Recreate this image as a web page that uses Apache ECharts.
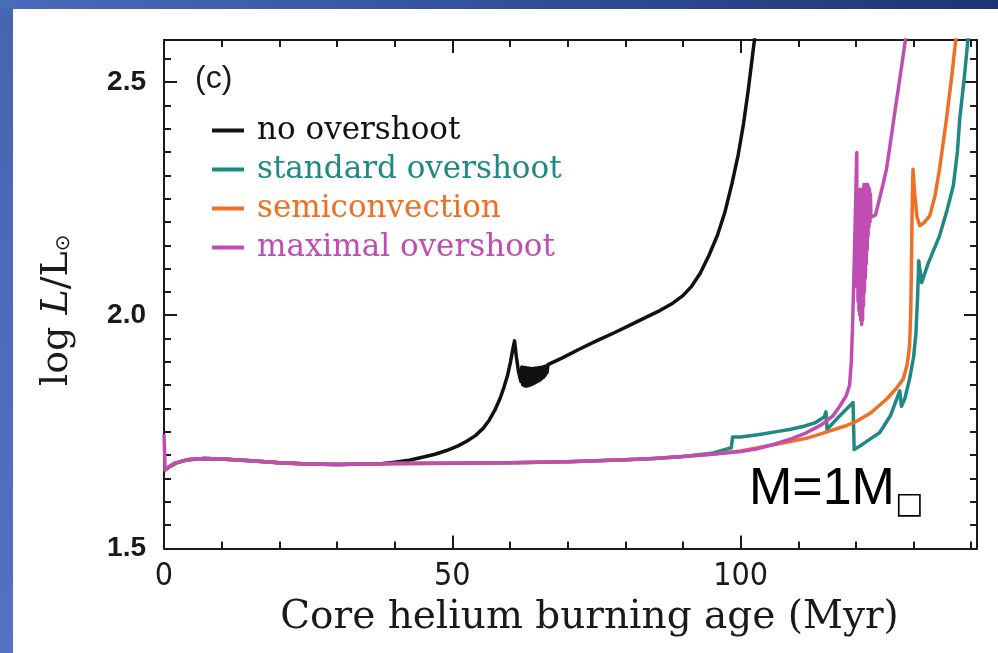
<!DOCTYPE html>
<html><head><meta charset="utf-8">
<script src="https://cdn.jsdelivr.net/npm/echarts@6/dist/echarts.min.js"></script>
<style>html,body{margin:0;padding:0;background:#fff}#c{width:998px;height:653px}</style>
</head><body><div id="c"></div><script>
// ---- data ----
const xTickLabels = [0, 50, 100];
const yTickLabels = [1.5, 2.0, 2.5];
const seriesNames = ['no overshoot', 'standard overshoot', 'semiconvection', 'maximal overshoot'];

const noOvershoot = [[0,1.667],[1,1.676],[2,1.683],[4,1.690],[7,1.693],[10,1.692],[15,1.688],[20,1.684],[25,1.681],[30,1.680],[35,1.681],
 [38,1.682],[40,1.685],[42.5,1.689],[45,1.696],[47,1.702],[49,1.710],[51,1.720],[52.5,1.730],[54,1.742],[55.3,1.757],[56.4,1.775],[57.4,1.797],[58.3,1.822],[59,1.847],[59.6,1.872],[60.1,1.900],[60.5,1.928],[60.8,1.945],
 [61.1,1.912],[61.5,1.878],[61.9,1.858],
 [62.05,1.889],[62.2,1.851],[62.35,1.888],[62.5,1.849],[62.65,1.888],[62.8,1.848],[62.95,1.887],[63.1,1.849],[63.25,1.887],[63.4,1.850],[63.55,1.886],[63.7,1.851],[63.85,1.886],[64.0,1.853],[64.15,1.886],[64.3,1.855],[64.45,1.887],[64.6,1.857],[64.75,1.887],[64.9,1.859],[65.05,1.888],[65.2,1.861],[65.35,1.888],[65.5,1.864],[65.65,1.889],[65.8,1.867],[65.95,1.890],[66.1,1.871],[66.25,1.891],[66.4,1.876],[66.6,1.894],
 [69,1.908],[72,1.927],[75,1.945],[78,1.962],[81,1.980],[84,1.998],[86,2.010],[88,2.024],[90,2.042],[91.5,2.062],[93,2.090],[94.5,2.128],[96,2.172],[97.3,2.222],[98.5,2.282],[99.6,2.345],[100.5,2.410],[101.3,2.480],[102,2.550],[102.5,2.60]];

const standardOvershoot = [[0,1.667],[1,1.676],[2,1.683],[4,1.690],[7,1.693],[10,1.692],[15,1.688],[20,1.684],[25,1.681],[30,1.680],[35,1.681],
 [40,1.682],[50,1.683],[60,1.684],[70,1.686],[80,1.690],[85,1.693],[90,1.697],
 [95,1.704],[98.4,1.716],[98.6,1.739],[100,1.739],[103,1.744],[106,1.750],[108.5,1.755],[111,1.762],[113,1.770],[114.5,1.782],[114.8,1.793],[115.0,1.755],[117,1.782],[119.5,1.813],[119.7,1.712],
 [121,1.722],[122.5,1.735],[124.1,1.748],[126,1.785],[127.6,1.838],[127.9,1.805],[128.5,1.822],[129.3,1.863],[130.0,1.91],[130.4,1.96],[130.7,2.04],[130.9,2.117],[131.4,2.07],
 [132.5,2.11],[134.5,2.17],[135.8,2.225],[136.9,2.278],[137.6,2.35],[138.0,2.42],[138.8,2.51],[139.5,2.60]];

const semiconvection = [[0,1.667],[1,1.676],[2,1.683],[4,1.690],[7,1.693],[10,1.692],[15,1.688],[20,1.684],[25,1.681],[30,1.680],[35,1.681],
 [40,1.682],[50,1.683],[60,1.684],[70,1.686],[80,1.690],[85,1.693],[90,1.697],
 [95,1.702],[100,1.709],[103,1.716],[106.8,1.725],[111.4,1.736],[115,1.750],[118,1.762],[120,1.772],[122.5,1.790],[125.3,1.820],[127,1.843],[128.2,1.863],[128.9,1.895],[129.3,1.934],
 [129.5,2.00],[129.6,2.08],[129.7,2.18],[129.8,2.26],[129.9,2.313],[130.2,2.26],[130.6,2.21],[131.1,2.192],[131.8,2.198],[132.8,2.213],[133.7,2.255],[134.5,2.313],[135.7,2.42],[136.6,2.51],[137.4,2.60]];

const maximalOvershoot = [[0,1.745],[0.2,1.668],[1,1.676],[2,1.683],[4,1.690],[7,1.693],[10,1.692],[15,1.688],[20,1.684],[25,1.681],[30,1.680],[35,1.681],
 [40,1.682],[50,1.683],[60,1.684],[70,1.686],[80,1.690],[85,1.693],[90,1.697],
 [95,1.702],[100,1.708],[102.7,1.713],[106,1.724],[109,1.736],[111.4,1.748],[114,1.765],[116,1.784],[117.2,1.805],[118.3,1.827],[118.9,1.85],[119.2,1.90],[119.4,1.97],[119.6,2.06],[119.8,2.16],[120.0,2.27],[120.15,2.349],
 [120.2,2.06],[120.28,2.25],[120.36,2.03],[120.44,2.26],[120.52,2.01],[120.6,2.26],[120.68,2.00],[120.76,2.27],[120.84,1.99],[120.92,2.27],[121.0,1.98],[121.08,2.27],[121.16,1.99],[121.24,2.27],[121.32,2.02],[121.4,2.28],[121.48,2.05],[121.56,2.28],[121.64,2.08],[121.72,2.28],[121.8,2.11],[121.88,2.28],[121.96,2.14],[122.04,2.28],[122.12,2.17],[122.2,2.275],[122.28,2.19],[122.36,2.27],[122.44,2.20],[122.52,2.26],[122.6,2.21],
 [123.4,2.215],[124.5,2.27],[125.3,2.313],[125.9,2.363],[126.8,2.44],[127.6,2.506],[128.7,2.60]];

const seriesData = [noOvershoot, standardOvershoot, semiconvection, maximalOvershoot];
const colors = ['#111111', '#1f8a85', '#ef6f25', '#c04db2'];

// ---- chart ----
const AX = '#1a1a1a';
const xMin = 0, xMax = 141, yMin = 1.5, yMax = 2.59;
function xAx(pos, interval, len, main) {
  return {
    type: 'value', position: pos, min: xMin, max: xMax, interval: interval,
    axisLine: { show: main, onZero: false, lineStyle: { color: AX, width: 2 } },
    axisTick: { show: true, inside: true, length: len, lineStyle: { color: AX, width: 2 } },
    axisLabel: { show: false }, splitLine: { show: false }
  };
}
function yAx(pos, interval, len, main) {
  return {
    type: 'value', position: pos, min: yMin, max: yMax, interval: interval,
    axisLine: { show: main, onZero: false, lineStyle: { color: AX, width: 2 } },
    axisTick: { show: true, inside: true, length: len, lineStyle: { color: AX, width: 2 } },
    axisLabel: { show: false }, splitLine: { show: false }
  };
}
const xAxes = [xAx('bottom', 10, 7, true), xAx('bottom', 50, 13, false), xAx('top', 10, 7, true), xAx('top', 50, 13, false)];
xAxes[1].axisLabel = {
  show: true, margin: 12, color: '#1a1a1a', fontSize: 32,
  fontFamily: '"Liberation Sans Narrow", "DejaVu Sans Condensed", "Liberation Sans", sans-serif',
  formatter: v => xTickLabels.some(t => Math.abs(t - v) < 1e-6) ? String(v) : ''
};
xAxes[0].name = 'Core helium burning age (Myr)';
xAxes[0].nameLocation = 'middle';
xAxes[0].nameGap = 50;
xAxes[0].nameTextStyle = { fontFamily: '"DejaVu Serif", serif', fontSize: 39, color: '#1a1a1a', padding: [0, 0, 0, 38] };

const yAxes = [yAx('left', 0.05, 7, true), yAx('left', 0.5, 13, false), yAx('right', 0.05, 7, true), yAx('right', 0.5, 13, false)];
yAxes[1].axisLabel = {
  show: true, margin: 18, color: '#1a1a1a', fontSize: 28, fontWeight: 'bold',
  fontFamily: '"Liberation Sans", Arial, sans-serif',
  formatter: v => yTickLabels.some(t => Math.abs(t - v) < 1e-6) ? v.toFixed(1) : ''
};
yAxes[0].name = 'log {i|L}/L{s|⊙}';
yAxes[0].nameLocation = 'middle';
yAxes[0].nameGap = 88;
yAxes[0].nameTextStyle = {
  fontFamily: '"DejaVu Serif", serif', fontSize: 38, color: '#1a1a1a', padding: [0, 32, 0, 0],
  rich: {
    i: { fontFamily: '"DejaVu Serif", serif', fontStyle: 'italic', fontSize: 38, color: '#1a1a1a' },
    s: { fontFamily: '"DejaVu Sans", sans-serif', fontSize: 20, color: '#1a1a1a', padding: [14, 0, 0, 0] }
  }
};

const chart = echarts.init(document.getElementById('c'), null, { renderer: 'canvas' });
chart.setOption({
  animation: false,
  backgroundColor: '#ffffff',
  grid: { left: 164, right: 21, top: 40, bottom: 104.5, containLabel: false, outerBoundsMode: 'none' },
  xAxis: xAxes,
  yAxis: yAxes,
  legend: {
    show: true, orient: 'vertical', left: 207, top: 106, padding: 5, itemGap: 0,
    icon: 'rect', itemWidth: 32, itemHeight: 4,
    data: seriesNames.map((n, i) => ({ name: n, textStyle: { color: colors[i] } })),
    textStyle: { fontFamily: '"DejaVu Serif", serif', fontSize: 31, lineHeight: 39, padding: [0, 0, 0, 8] },
    selectedMode: false
  },
  graphic: [
    { type: 'rect', shape: { x: 0, y: 0, width: 13, height: 653 }, style: { fill: new echarts.graphic.LinearGradient(0, 0, 0, 1, [{ offset: 0, color: '#4465b2' }, { offset: 1, color: '#5273c2' }]) }, silent: true },
    { type: 'rect', shape: { x: 0, y: 0, width: 998, height: 9 }, style: { fill: new echarts.graphic.LinearGradient(0, 0, 1, 0, [{ offset: 0, color: '#4a6bbb' }, { offset: 1, color: '#1c3577' }]) }, silent: true },
    { type: 'text', left: 195, top: 63, style: { text: '(c)', font: '32px "Liberation Sans", Arial, sans-serif', fill: '#1a1a1a' }, silent: true },
    { type: 'text', left: 749, top: 464, style: { text: 'M=1M', font: '52px "Liberation Sans", Arial, sans-serif', fill: '#000000' }, silent: true },
    { type: 'text', left: 895, top: 490, style: { text: '□', font: '30px "DejaVu Sans", sans-serif', fill: '#000000' }, silent: true }
  ],
  series: seriesNames.map((n, i) => ({
    name: n, type: 'line', data: seriesData[i], xAxisIndex: 0, yAxisIndex: 0,
    showSymbol: false, symbol: 'none', smooth: false, clip: true,
    lineStyle: { color: colors[i], width: 3.5, join: 'round' }, itemStyle: { color: colors[i] },
    z: 2 + i
  }))
});
</script></body></html>
